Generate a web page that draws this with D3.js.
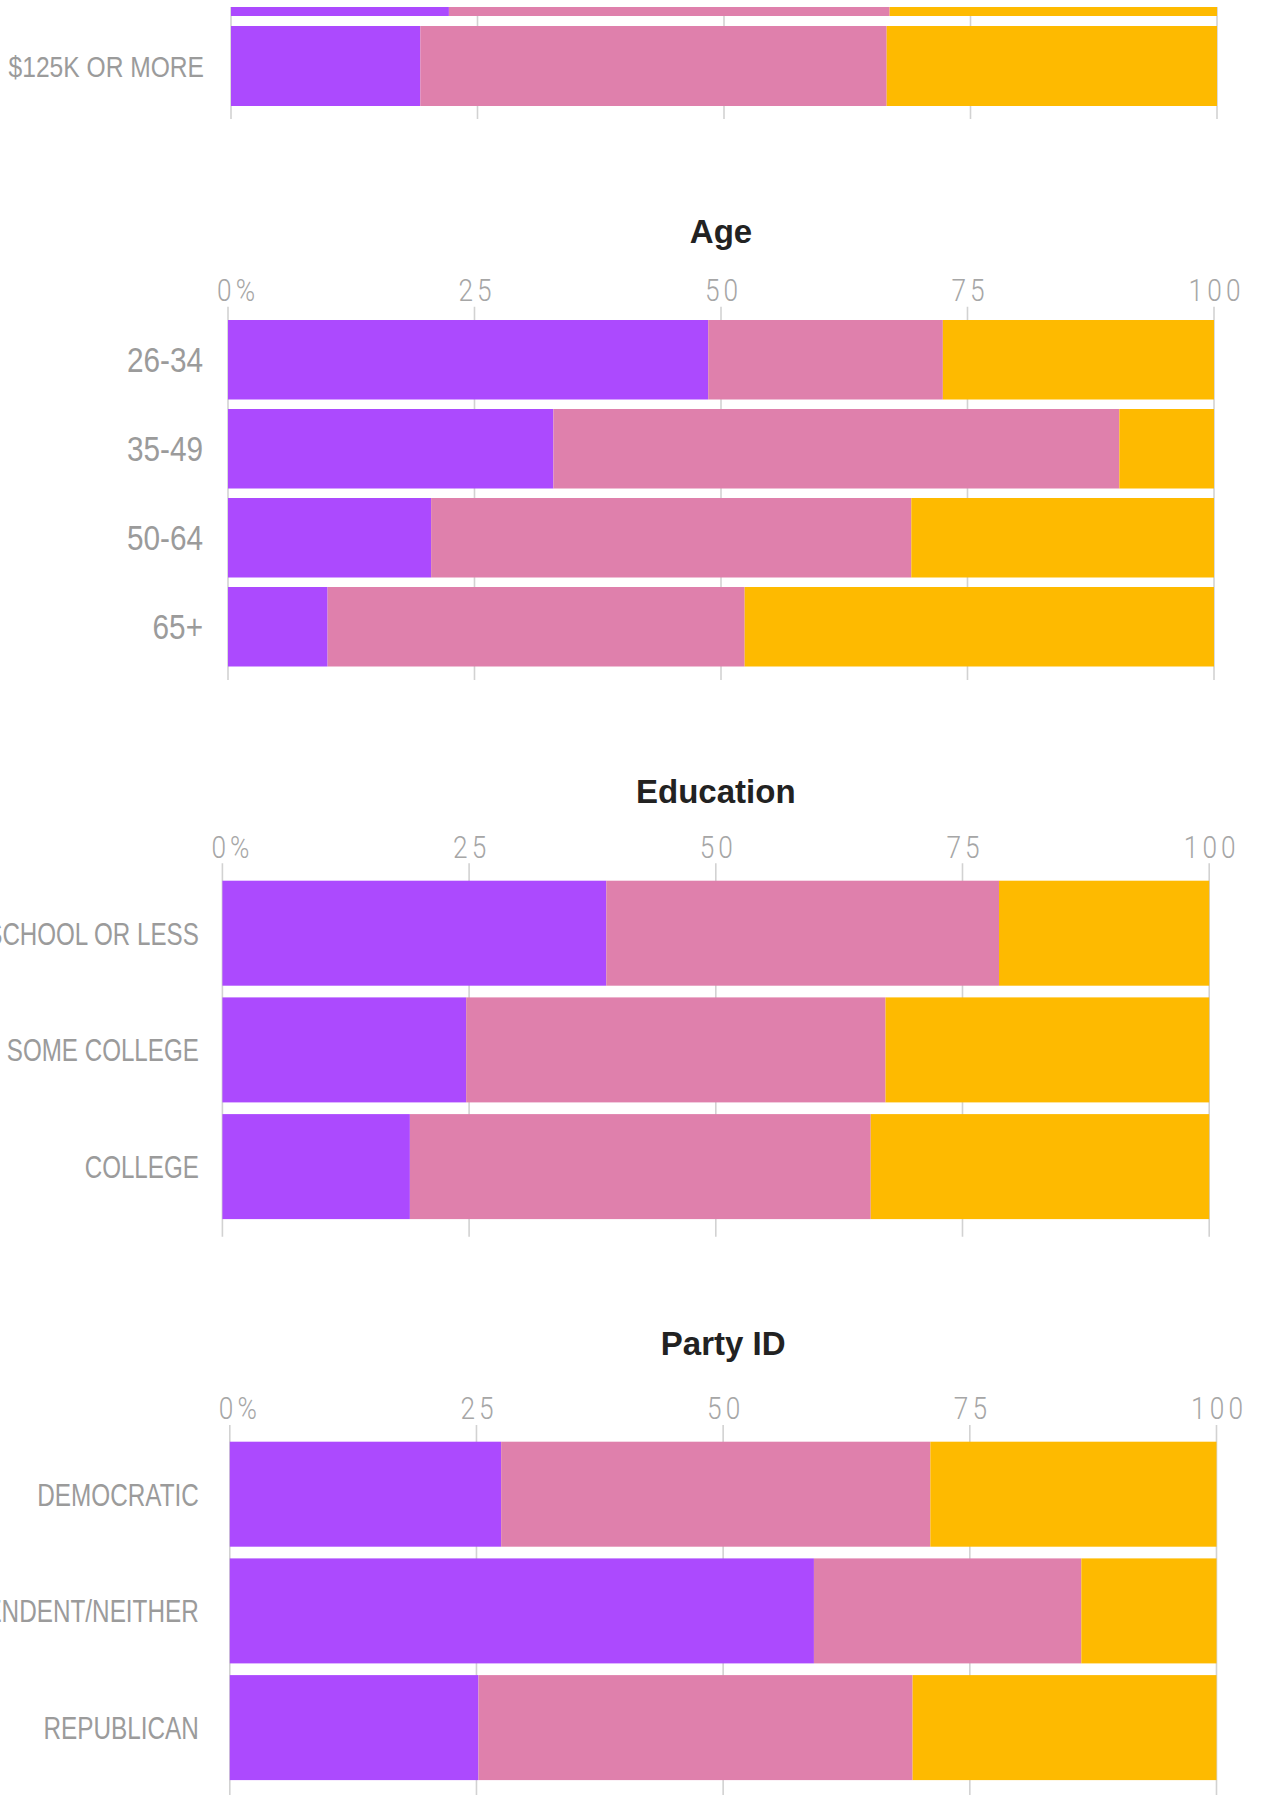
<!DOCTYPE html>
<html>
<head>
<meta charset="utf-8">
<script src="https://cdn.jsdelivr.net/npm/d3@7"></script>
<style>
  html, body { margin: 0; padding: 0; background: #fff; overflow: hidden; }
  svg { display: block; }
  .row-label { font-family: "Liberation Sans", Arial, sans-serif; fill: #9b9b9b; }
  .tick-label { font-family: Roboto, "Liberation Sans", sans-serif; font-weight: 300; fill: #a6a6a6; font-size: 32px; letter-spacing: 5px; }
  .panel-title { font-family: "Liberation Sans", Arial, sans-serif; font-weight: bold; fill: #222; font-size: 33px; }
</style>
</head>
<body>
<svg id="chart"></svg>
<script>
// ---- Data (percent of respondents in each group) ----
const seriesKeys = ["first", "second", "third"];
const seriesColors = ["#ac4afe", "#df80ac", "#feba00"];
const tickValues = [0, 25, 50, 75, 100];
const tickLabels = ["0%", "25", "50", "75", "100"];

const incomeRows = ["$75K-$124K", "$125K OR MORE"];
const incomeFirst = [22.1, 19.2];
const incomeSecond = [44.7, 47.3];
const incomeThird = [33.2, 33.5];

const ageRows = ["26-34", "35-49", "50-64", "65+"];
const ageFirst = [48.7, 33.0, 20.6, 10.1];
const ageSecond = [23.8, 57.4, 48.7, 42.3];
const ageThird = [27.5, 9.6, 30.7, 47.6];

const educationRows = ["HIGH SCHOOL OR LESS", "SOME COLLEGE", "COLLEGE"];
const educationFirst = [38.9, 24.7, 19.0];
const educationSecond = [39.8, 42.5, 46.7];
const educationThird = [21.3, 32.8, 34.3];

const partyRows = ["DEMOCRATIC", "INDEPENDENT/NEITHER", "REPUBLICAN"];
const partyFirst = [27.5, 59.2, 25.2];
const partySecond = [43.5, 27.1, 44.0];
const partyThird = [29.0, 13.7, 30.8];

// ---- Page ----
const W = 1265, H = 1795;
const svg = d3.select("#chart").attr("width", W).attr("height", H);

function buildTable(rows, a, b, c) {
  return rows.map((r, i) => ({ row: r, first: a[i], second: b[i], third: c[i] }));
}

// condensed look for labels: horizontal squeeze of the sans face
const tickSqueeze = 0.82;
const tickSpacing = 5;

const panels = [
  { title: null, table: buildTable(incomeRows, incomeFirst, incomeSecond, incomeThird),
    x0: 231, x1: 1217, top: -64, step: 90, band: 80,
    titleY: null, tickLabelY: null, gridTop: -80, gridBottom: 119,
    labelX: 204, labelSize: 30, labelSqueeze: 0.82, clipTop: 7 },
  { title: "Age", table: buildTable(ageRows, ageFirst, ageSecond, ageThird),
    x0: 228, x1: 1214, top: 320, step: 89, band: 79.5,
    titleY: 243, tickLabelY: 301, gridTop: 306.7, gridBottom: 680,
    labelX: 203, labelSize: 35, labelSqueeze: 0.85 },
  { title: "Education", table: buildTable(educationRows, educationFirst, educationSecond, educationThird),
    x0: 222.4, x1: 1209.2, top: 880.7, step: 116.7, band: 105,
    titleY: 803, tickLabelY: 858.3, gridTop: 863.3, gridBottom: 1236.7,
    labelX: 198.8, labelSize: 32, labelSqueeze: 0.755 },
  { title: "Party ID", table: buildTable(partyRows, partyFirst, partySecond, partyThird),
    x0: 229.8, x1: 1216.5, top: 1441.7, step: 116.7, band: 105,
    titleY: 1355, tickLabelY: 1418.5, gridTop: 1425, gridBottom: 1820,
    labelX: 198.8, labelSize: 32, labelSqueeze: 0.76 }
];

const stack = d3.stack().keys(seriesKeys);
const color = d3.scaleOrdinal().domain(seriesKeys).range(seriesColors);

panels.forEach((p, pi) => {
  const g = svg.append("g");
  const visibleTop = p.clipTop != null ? p.clipTop : -Infinity;
  if (p.clipTop != null) {
    const id = "clip" + pi;
    svg.append("clipPath").attr("id", id)
      .append("rect").attr("x", 0).attr("y", p.clipTop).attr("width", W).attr("height", H);
    g.attr("clip-path", `url(#${id})`);
  }

  const x = d3.scaleLinear().domain([0, 100]).range([p.x0, p.x1]);
  const n = p.table.length;
  const gap = p.step - p.band;
  const y = d3.scaleBand()
    .domain(p.table.map(d => d.row))
    .range([p.top, p.top + n * p.step - gap])
    .paddingInner(gap / p.step)
    .paddingOuter(0);

  // vertical grid lines behind the bars
  g.append("g").selectAll("line")
    .data(tickValues)
    .join("line")
    .attr("x1", d => x(d)).attr("x2", d => x(d))
    .attr("y1", p.gridTop).attr("y2", p.gridBottom)
    .attr("stroke", "#d2d2d2")
    .attr("stroke-width", 1.6);

  // stacked bars
  const series = stack(p.table);
  g.append("g").selectAll("g")
    .data(series)
    .join("g")
    .attr("fill", s => color(s.key))
    .selectAll("rect")
    .data(s => s)
    .join("rect")
    .attr("x", d => x(d[0]))
    .attr("width", d => x(d[1]) - x(d[0]))
    .attr("y", d => y(d.data.row))
    .attr("height", y.bandwidth());

  // row labels (only rows whose middle is inside the visible area)
  g.append("g").selectAll("text")
    .data(p.table.filter(d => y(d.row) + y.bandwidth() / 2 > visibleTop))
    .join("text")
    .attr("class", "row-label")
    .attr("transform", d => `translate(${p.labelX},${y(d.row) + y.bandwidth() / 2}) scale(${p.labelSqueeze},1)`)
    .attr("dy", "0.36em")
    .attr("text-anchor", "end")
    .style("font-size", p.labelSize + "px")
    .text(d => d.row);

  // top axis labels
  if (p.tickLabelY != null) {
    const axis = d3.axisTop(x)
      .tickValues(tickValues)
      .tickSize(0)
      .tickPadding(0)
      .tickFormat((d, i) => tickLabels[i]);
    const ax = g.append("g")
      .attr("transform", `translate(0,${p.tickLabelY})`)
      .call(axis);
    ax.select(".domain").remove();
    ax.attr("font-size", null).attr("font-family", null);
    ax.selectAll("text")
      .attr("class", "tick-label")
      .attr("fill", null)
      .attr("y", 0)
      .attr("dy", 0)
      .attr("transform", `scale(${tickSqueeze},1)`)
      .attr("text-anchor", d => d === 0 ? "start" : "middle")
      .attr("dx", d => d === 0 ? -11.5 / tickSqueeze : tickSpacing / 2);
  }

  // panel title
  if (p.title) {
    g.append("text")
      .attr("class", "panel-title")
      .attr("x", (p.x0 + p.x1) / 2)
      .attr("y", p.titleY)
      .attr("text-anchor", "middle")
      .text(p.title);
  }
});
</script>
</body>
</html>
